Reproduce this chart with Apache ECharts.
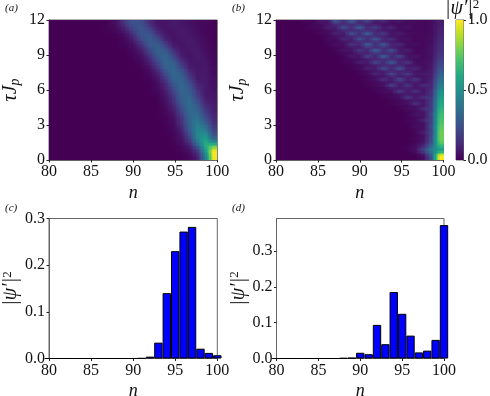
<!DOCTYPE html>
<html>
<head>
<meta charset="utf-8">
<title>psi map</title>
<script src="https://cdn.jsdelivr.net/npm/echarts@6/dist/echarts.min.js"></script>
<style>
  html, body { margin: 0; padding: 0; background: #fff; }
  #chart { width: 490px; height: 396px; }
</style>
</head>
<body>
<div id="chart"></div>
<script>
// site index for the lower panels
var SITES = [80,81,82,83,84,85,86,87,88,89,90,91,92,93,94,95,96,97,98,99,100];

var BARS_C = [0,0,0,0,0,0,0,0,0,0,0,0.0005,0.004,0.034,0.14,0.23,0.272,0.282,0.021,0.012,0.007];
var BARS_D = [0,0,0,0,0,0,0,0,0.001,0.002,0.016,0.012,0.094,0.04,0.186,0.125,0.064,0.017,0.022,0.052,0.373];

// map (a): percent of the colour scale, one row per tau step (top row first), columns n=80..100
var HEAT_A = [
  [0,0,0,0,0,0,0,1,5,16,26,24,12,5,5,7,6,4,3,2,1],
  [0,0,0,0,0,0,0,1,3,10,21,27,19,8,5,6,7,5,3,2,1],
  [0,0,0,0,0,0,0,0,1,4,14,26,26,14,6,5,7,6,4,2,1],
  [0,0,0,0,0,0,0,0,0,2,8,21,29,23,10,5,6,7,5,3,1],
  [0,0,0,0,0,0,0,0,0,1,4,13,27,30,19,7,5,7,6,3,1],
  [0,0,0,0,0,0,0,0,0,0,2,7,20,31,28,14,6,6,7,4,2],
  [0,0,0,0,0,0,0,0,0,0,1,4,13,27,33,21,8,5,7,5,2],
  [0,0,0,0,0,0,0,0,0,0,0,2,8,21,33,30,14,6,6,6,2],
  [0,0,0,0,0,0,0,0,0,0,0,1,4,15,30,33,21,8,6,7,3],
  [0,0,0,0,0,0,0,0,0,0,0,0,2,8,23,34,28,13,6,7,3],
  [0,0,0,0,0,0,0,0,0,0,0,0,1,5,16,31,32,18,7,7,4],
  [0,0,0,0,0,0,0,0,0,0,0,0,0,3,11,26,34,25,10,7,4],
  [0,0,0,0,0,0,0,0,0,0,0,0,0,2,8,21,33,29,14,7,5],
  [0,0,0,0,0,0,0,0,0,0,0,0,0,1,5,16,31,32,18,7,6],
  [0,0,0,0,0,0,0,0,0,0,0,0,0,0,4,13,29,35,24,9,7],
  [0,0,0,0,0,0,0,0,0,0,0,0,0,0,3,9,24,35,29,13,8],
  [0,0,0,0,0,0,0,0,0,0,0,0,0,0,2,6,20,34,33,18,9],
  [0,0,0,0,0,0,0,0,0,0,0,0,0,0,1,4,15,32,37,24,11],
  [0,0,0,0,0,0,0,0,0,0,0,0,0,0,1,3,13,31,42,31,14],
  [0,0,0,0,0,0,0,0,0,0,0,0,0,0,0,2,9,28,45,40,18],
  [0,0,0,0,0,0,0,0,0,0,0,0,0,0,0,1,6,22,47,50,25],
  [0,0,0,0,0,0,0,0,0,0,0,0,0,0,0,1,4,16,42,60,38],
  [0,0,0,0,0,0,0,0,0,0,0,0,0,0,0,0,2,8,28,62,75],
  [0,0,0,0,0,0,0,0,0,0,0,0,0,0,0,0,1,4,14,50,100],
  [0,0,0,0,0,0,0,0,0,0,0,0,0,0,0,0,0,2,8,40,98]
];

// map (b): same layout, finer rows so the staggered blobs stay separate
var HEAT_B = [
  [0,0,0,1,1,6,5,27,11,30,11,21,7,11,4,6,3,3,2,3,8],
  [0,0,0,0,1,3,5,12,11,13,11,8,6,5,3,3,2,2,2,3,8],
  [0,0,0,0,2,2,9,8,26,12,32,11,20,6,11,3,5,2,2,3,9],
  [0,0,0,0,0,1,4,6,11,11,14,11,10,6,5,3,2,2,2,3,9],
  [0,0,0,0,0,2,2,10,7,26,12,33,11,17,5,8,3,3,2,3,10],
  [0,0,0,0,0,0,2,4,7,11,12,14,10,9,5,4,3,2,2,4,10],
  [0,0,0,0,0,0,3,3,13,8,29,12,32,10,14,4,5,2,2,4,11],
  [0,0,0,0,0,0,1,2,5,7,12,12,14,10,7,4,3,2,2,4,12],
  [0,0,0,0,0,0,1,4,4,16,9,33,12,30,9,12,3,4,2,4,13],
  [0,0,0,0,0,0,0,1,3,6,8,13,13,13,9,5,3,2,2,5,13],
  [0,0,0,0,0,0,0,1,5,5,18,10,34,12,26,7,9,2,3,5,14],
  [0,0,0,0,0,0,0,0,2,3,7,9,13,12,11,7,4,2,3,5,15],
  [0,0,0,0,0,0,0,0,1,7,6,21,10,33,11,22,5,6,2,5,16],
  [0,0,0,0,0,0,0,0,1,2,4,7,9,13,11,9,5,3,3,5,18],
  [0,0,0,0,0,0,0,0,1,2,9,7,23,11,31,9,17,3,4,6,20],
  [0,0,0,0,0,0,0,0,0,1,2,5,8,10,11,10,6,4,3,6,22],
  [0,0,0,0,0,0,0,0,0,1,3,10,7,25,10,28,8,12,3,7,24],
  [0,0,0,0,0,0,0,0,0,0,1,3,6,8,10,10,7,5,4,7,27],
  [0,0,0,0,0,0,0,0,0,0,1,4,12,7,25,9,22,6,8,8,30],
  [0,0,0,0,0,0,0,0,0,0,0,1,4,6,8,9,7,6,4,8,33],
  [0,0,0,0,0,0,0,0,0,0,0,2,5,14,7,24,8,17,5,10,36],
  [0,0,0,0,0,0,0,0,0,0,0,1,2,4,7,8,7,6,5,10,39],
  [0,0,0,0,0,0,0,0,0,0,0,1,2,5,21,7,17,6,13,11,42],
  [0,0,0,0,0,0,0,0,0,0,0,0,1,2,5,7,7,6,5,12,46],
  [0,0,0,0,0,0,0,0,0,0,0,0,1,3,5,19,7,15,6,14,50],
  [0,0,0,0,0,0,0,0,0,0,0,0,0,1,2,5,6,6,6,14,52],
  [0,0,0,0,0,0,0,0,0,0,0,0,0,1,3,5,17,7,14,16,55],
  [0,0,0,0,0,0,0,0,0,0,0,0,0,0,1,2,5,6,6,16,57],
  [0,0,0,0,0,0,0,0,0,0,0,0,0,0,1,3,4,15,6,18,60],
  [0,0,0,0,0,0,0,0,0,0,0,0,0,0,0,1,2,5,6,17,62],
  [0,0,0,0,0,0,0,0,0,0,0,0,0,0,0,1,4,4,14,18,65],
  [0,0,0,0,0,0,0,0,0,0,0,0,0,0,0,0,1,3,6,19,67],
  [0,0,0,0,0,0,0,0,0,0,0,0,0,0,0,0,1,6,5,22,69],
  [0,0,0,0,0,0,0,0,0,0,0,0,0,0,0,0,1,2,5,20,70],
  [0,0,0,0,0,0,0,0,0,0,0,0,0,0,0,0,1,3,11,20,72],
  [0,0,0,0,0,0,0,0,0,0,0,0,0,0,0,0,0,2,4,20,73],
  [0,0,0,0,0,0,0,0,0,0,0,0,0,0,0,0,0,4,4,24,75],
  [0,0,0,0,0,0,0,0,0,0,0,0,0,0,0,0,0,2,4,21,76],
  [0,0,0,0,0,0,0,0,0,0,0,0,0,0,0,0,0,2,9,21,78],
  [0,0,0,0,0,0,0,0,0,0,0,0,0,0,0,0,0,1,4,21,78],
  [0,0,0,0,0,0,0,0,0,0,0,0,0,0,0,0,0,2,5,24,78],
  [0,0,0,0,0,0,0,0,0,0,0,0,0,0,0,0,0,1,5,24,76],
  [0,0,0,0,0,0,0,0,0,0,0,0,0,0,0,0,0,3,8,28,72],
  [0,0,0,0,0,0,0,0,0,0,0,0,0,0,0,0,1,3,12,34,64],
  [0,0,0,0,0,0,0,0,0,0,0,0,0,0,0,0,1,4,20,42,55],
  [0,0,0,0,0,0,0,0,0,0,0,0,0,0,0,0,0,3,14,36,70],
  [0,0,0,0,0,0,0,0,0,0,0,0,0,0,0,0,0,0,4,28,100],
  [0,0,0,0,0,0,0,0,0,0,0,0,0,0,0,0,0,0,3,25,100]
];

var VIRIDIS = ['#440154','#482475','#414487','#355f8d','#2a788e','#21908d','#22a884','#42be71','#7ad151','#bddf26','#fde725'];

var FONT = '"Liberation Serif", serif';
var TEXT = '#111';
var FRAME = '#666';

function hexRgb(h) {
  return [parseInt(h.substr(1, 2), 16), parseInt(h.substr(3, 2), 16), parseInt(h.substr(5, 2), 16)];
}
var viridisRgb = VIRIDIS.map(hexRgb);

function colorOf(v) {
  var p = Math.max(0, Math.min(1, v)) * (VIRIDIS.length - 1);
  var i = Math.min(Math.floor(p), VIRIDIS.length - 2);
  var f = p - i, a = viridisRgb[i], b = viridisRgb[i + 1];
  return 'rgb(' + Math.round(a[0] + (b[0] - a[0]) * f) + ',' + Math.round(a[1] + (b[1] - a[1]) * f) + ',' + Math.round(a[2] + (b[2] - a[2]) * f) + ')';
}

// smooth look-up between table cells, like imshow with interpolation
function sample(table, cc, rr) {
  var rows = table.length, cols = table[0].length;
  cc = Math.max(0, Math.min(cols - 1, cc));
  rr = Math.max(0, Math.min(rows - 1, rr));
  var c0 = Math.min(Math.floor(cc), cols - 2), r0 = Math.min(Math.floor(rr), rows - 2);
  var fc = cc - c0, fr = rr - r0;
  var top = table[r0][c0] * (1 - fc) + table[r0][c0 + 1] * fc;
  var bot = table[r0 + 1][c0] * (1 - fc) + table[r0 + 1][c0 + 1] * fc;
  return (top * (1 - fr) + bot * fr) / 100;
}

function heatSeries(table, axisIndex) {
  var rows = table.length, cols = table[0].length;
  var dn = 20 / cols, dt = 12 / rows;
  var data = [];
  table.forEach(function(row, r) {
    row.forEach(function(v, c) {
      data.push([80 + (c + 0.5) * dn, 12 - (r + 0.5) * dt, v, c, r]);
    });
  });
  var NX = 6, NY = rows > 30 ? 2 : 4;
  return {
    type: 'custom',
    xAxisIndex: axisIndex,
    yAxisIndex: axisIndex,
    silent: true,
    animation: false,
    clip: true,
    z: 1,
    encode: { x: 0, y: 1 },
    data: data,
    renderItem: function(params, api) {
      var c = api.value(3), r = api.value(4);
      var n0 = 80 + c * dn, t0 = 12 - r * dt;
      var kids = [];
      for (var i = 0; i < NX; i++) {
        for (var j = 0; j < NY; j++) {
          var a = api.coord([n0 + dn * i / NX, t0 - dt * j / NY]);
          var b = api.coord([n0 + dn * (i + 1) / NX, t0 - dt * (j + 1) / NY]);
          var x0 = Math.round(a[0]), y0 = Math.round(a[1]);
          var x1 = Math.round(b[0]), y1 = Math.round(b[1]);
          if (x1 <= x0 || y1 <= y0) continue;
          kids.push({
            type: 'rect',
            shape: { x: x0, y: y0, width: x1 - x0, height: y1 - y0 },
            style: { fill: colorOf(sample(table, c - 0.5 + (i + 0.5) / NX, r - 0.5 + (j + 0.5) / NY)) }
          });
        }
      }
      return { type: 'group', children: kids };
    }
  };
}

function barSeries(values, axisIndex) {
  return {
    type: 'bar',
    xAxisIndex: axisIndex,
    yAxisIndex: axisIndex,
    barWidth: '100%',
    silent: true,
    animation: false,
    z: 3,
    itemStyle: { color: '#0000ff', borderColor: '#000', borderWidth: 1 },
    data: values.map(function(v, i) { return [SITES[i], v]; })
  };
}

function xAxisOf(gridIndex) {
  return {
    type: 'value', gridIndex: gridIndex, min: 80, max: 100, interval: 5,
    name: 'n', nameLocation: 'middle', nameGap: 24,
    nameTextStyle: { fontFamily: FONT, fontStyle: 'italic', fontSize: 18, color: TEXT },
    splitLine: { show: false },
    axisLine: { show: true, onZero: false, lineStyle: { color: FRAME, width: 1 } },
    axisTick: { show: true, length: 2.5, lineStyle: { color: '#222' } },
    axisLabel: { fontFamily: FONT, fontSize: 16, color: TEXT, margin: 4, showMinLabel: true, showMaxLabel: true, hideOverlap: false }
  };
}

var RICH_TAU = {
  i: { fontFamily: FONT, fontStyle: 'italic', fontSize: 20, color: TEXT },
  s: { fontFamily: FONT, fontStyle: 'italic', fontSize: 14, color: TEXT, verticalAlign: 'bottom', padding: [8, 0, 0, 0] }
};
var RICH_PSI = {
  i: { fontFamily: FONT, fontStyle: 'italic', fontWeight: 'normal', fontSize: 20, color: TEXT },
  u: { fontFamily: FONT, fontWeight: 'normal', fontSize: 13, color: TEXT, verticalAlign: 'top', padding: [0, 0, 8, 0] }
};

function yAxisOf(gridIndex, max, interval, isMap, gap) {
  var ax = {
    type: 'value', gridIndex: gridIndex, min: 0, max: max, interval: interval,
    name: isMap ? '{i|\u03c4J}{s|p}' : '{i|\u007c\u03c8\u2032\u007c}{u|2}',
    nameLocation: 'middle', nameGap: gap,
    nameTextStyle: { rich: isMap ? RICH_TAU : RICH_PSI },
    splitLine: { show: false },
    axisLine: { show: true, onZero: false, lineStyle: { color: FRAME, width: 1 } },
    axisTick: { show: true, length: 2.5, lineStyle: { color: '#222' } },
    axisLabel: {
      fontFamily: FONT, fontSize: 16, color: TEXT, margin: 4, showMinLabel: true, hideOverlap: false,
      formatter: function(v) { return isMap ? String(v) : v.toFixed(1); }
    }
  };
  return ax;
}

function gridOf(left, top, width, height) {
  return { left: left, top: top, width: width, height: height, outerBoundsMode: 'none', show: true, borderColor: FRAME, borderWidth: 1, backgroundColor: 'transparent' };
}

function panelTag(txt, left, top) {
  return { text: txt, left: left, top: top, padding: 0, textStyle: { fontFamily: FONT, fontStyle: 'italic', fontWeight: 'normal', fontSize: 11, color: TEXT } };
}

var chart = echarts.init(document.getElementById('chart'), null, { renderer: 'canvas' });

var yD = yAxisOf(3, 0.3915, 0.1, false, 26);
yD.axisLabel.showMaxLabel = false;

chart.setOption({
  animation: false,
  backgroundColor: '#fff',
  title: [
    panelTag('(a)', 5, 3),
    panelTag('(b)', 232, 3),
    panelTag('(c)', 5, 203),
    panelTag('(d)', 232, 203),
    {
      text: '{i|\u007c\u03c8\u2032\u007c}{u|2}', left: 445, top: -2, padding: 0,
      textStyle: { fontWeight: 'normal', rich: RICH_PSI }
    }
  ],
  grid: [
    gridOf(49, 20, 168.3, 140),
    gridOf(276, 20, 167.5, 140),
    gridOf(49, 218.5, 168.3, 140),
    gridOf(276.5, 218.5, 167.5, 140),
    gridOf(456, 20, 7.5, 140)
  ],
  xAxis: [
    xAxisOf(0), xAxisOf(1), xAxisOf(2), xAxisOf(3),
    { type: 'category', gridIndex: 4, data: ['bar'], show: false }
  ],
  yAxis: [
    yAxisOf(0, 12, 3, true, 27),
    yAxisOf(1, 12, 3, true, 27),
    yAxisOf(2, 0.3, 0.1, false, 25),
    yD,
    {
      type: 'value', gridIndex: 4, min: 0, max: 1, interval: 0.5, position: 'right',
      splitLine: { show: false },
      axisLine: { show: true, onZero: false, lineStyle: { color: FRAME } },
      axisTick: { show: true, length: 2.5, lineStyle: { color: '#222' } },
      axisLabel: { fontFamily: FONT, fontSize: 16, color: TEXT, margin: 4, formatter: function(v) { return v.toFixed(1); } }
    }
  ],
  series: [
    heatSeries(HEAT_A, 0),
    heatSeries(HEAT_B, 1),
    barSeries(BARS_C, 2),
    barSeries(BARS_D, 3),
    {
      type: 'bar', xAxisIndex: 4, yAxisIndex: 4, barWidth: '100%', silent: true, animation: false,
      itemStyle: {
        color: new echarts.graphic.LinearGradient(0, 1, 0, 0, VIRIDIS.map(function(c, i) {
          return { offset: i / (VIRIDIS.length - 1), color: c };
        }))
      },
      data: [1]
    }
  ]
});
</script>
</body>
</html>
